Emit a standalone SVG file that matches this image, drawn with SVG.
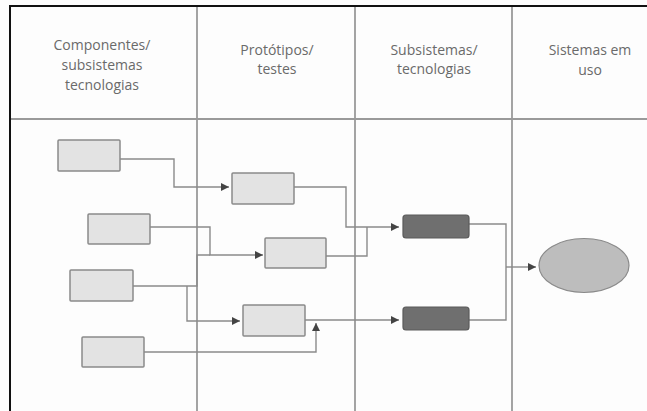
<svg xmlns="http://www.w3.org/2000/svg" width="647" height="411" viewBox="0 0 647 411">
  <style>
    .frame { stroke: #111; stroke-width: 2; fill: none; }
    .grid { stroke: #9a9a9a; stroke-width: 1.8; fill: none; }
    .head { font-family: "Open Sans", "Liberation Sans", sans-serif; font-size: 14px; fill: #6a6a6a; text-anchor: middle; }
    .box { fill: #e3e3e3; stroke: #8a8a8a; stroke-width: 1.5; }
    .dark { fill: #6f6f6f; stroke: #5a5a5a; stroke-width: 1.2; }
    .goal { fill: #bdbdbd; stroke: #8a8a8a; stroke-width: 1.2; }
    .link { stroke: #8a8a8a; stroke-width: 1.4; fill: none; }
  </style>
  <defs>
    <marker id="arrow" markerUnits="userSpaceOnUse" markerWidth="10" markerHeight="10" refX="8" refY="4" orient="auto">
      <path d="M0,0 L8,4 L0,8 Z" fill="#444"/>
    </marker>
  </defs>

  <rect width="647" height="411" fill="#fdfdfd"/>

  <!-- table grid -->
  <g id="table">
    <line class="grid" x1="10" y1="119" x2="647" y2="119"/>
    <line class="grid" x1="197" y1="6" x2="197" y2="411"/>
    <line class="grid" x1="355" y1="6" x2="355" y2="411"/>
    <line class="grid" x1="512" y1="6" x2="512" y2="411"/>
    <path class="frame" d="M10,411 V6 H647"/>
  </g>

  <!-- column headings -->
  <g id="headings">
    <text class="head" x="102" y="50">Componentes/</text>
    <text class="head" x="102" y="70">subsistemas</text>
    <text class="head" x="102" y="90">tecnologias</text>
    <text class="head" x="277" y="55">Protótipos/</text>
    <text class="head" x="277" y="74">testes</text>
    <text class="head" x="434" y="55">Subsistemas/</text>
    <text class="head" x="434" y="74">tecnologias</text>
    <text class="head" x="590" y="55">Sistemas em</text>
    <text class="head" x="590" y="75">uso</text>
  </g>

  <!-- connectors -->
  <g id="connectors">
    <path class="link" d="M120,159 H174 V187 H229" marker-end="url(#arrow)"/>
    <path class="link" d="M150,227 H210 V255 H263" marker-end="url(#arrow)"/>
    <path class="link" d="M133,286 H197 V255 H210"/>
    <path class="link" d="M187,286 V321 H240" marker-end="url(#arrow)"/>
    <path class="link" d="M144,352 H316 V323" marker-end="url(#arrow)"/>
    <path class="link" d="M294,187 H346 V227 H399" marker-end="url(#arrow)"/>
    <path class="link" d="M326,256 H367 V227"/>
    <path class="link" d="M305,320 H399" marker-end="url(#arrow)"/>
    <path class="link" d="M469,224 H506 V320 H469"/>
    <path class="link" d="M506,267 H536" marker-end="url(#arrow)"/>
  </g>

  <!-- component nodes -->
  <g id="comp1"><rect class="box" x="58" y="140" width="62" height="31" rx="1"/></g>
  <g id="comp2"><rect class="box" x="88" y="214" width="62" height="30" rx="1"/></g>
  <g id="comp3"><rect class="box" x="70" y="270" width="63" height="31" rx="1"/></g>
  <g id="comp4"><rect class="box" x="82" y="337" width="62" height="30" rx="1"/></g>

  <!-- prototype nodes -->
  <g id="proto1"><rect class="box" x="232" y="173" width="62" height="31" rx="1"/></g>
  <g id="proto2"><rect class="box" x="265" y="238" width="61" height="30" rx="1"/></g>
  <g id="proto3"><rect class="box" x="243" y="305" width="62" height="31" rx="1"/></g>

  <!-- subsystem nodes -->
  <g id="sub1"><rect class="dark" x="403" y="215" width="66" height="23" rx="3"/></g>
  <g id="sub2"><rect class="dark" x="403" y="307" width="66" height="23" rx="3"/></g>

  <!-- system in use -->
  <g id="system"><ellipse class="goal" cx="584" cy="265.5" rx="45" ry="27"/></g>
</svg>
